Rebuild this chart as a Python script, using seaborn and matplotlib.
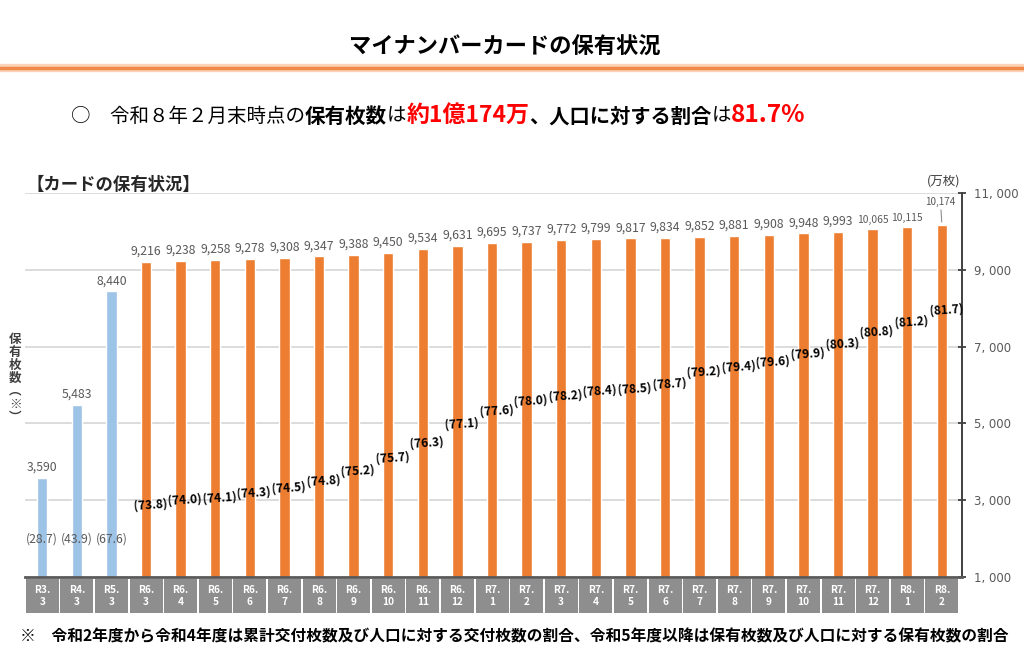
import matplotlib
matplotlib.use("Agg")
import matplotlib.pyplot as plt
import matplotlib.transforms as mtransforms
from matplotlib.patches import Rectangle
from matplotlib.lines import Line2D
import seaborn as sns
import pandas as pd

# ---------------- data ----------------
periods = ["R3.\n3", "R4.\n3", "R5.\n3",
           "R6.\n3", "R6.\n4", "R6.\n5", "R6.\n6", "R6.\n7", "R6.\n8", "R6.\n9",
           "R6.\n10", "R6.\n11", "R6.\n12",
           "R7.\n1", "R7.\n2", "R7.\n3", "R7.\n4", "R7.\n5", "R7.\n6", "R7.\n7",
           "R7.\n8", "R7.\n9", "R7.\n10", "R7.\n11", "R7.\n12",
           "R8.\n1", "R8.\n2"]
counts = [3590, 5483, 8440,
          9216, 9238, 9258, 9278, 9308, 9347, 9388, 9450, 9534, 9631,
          9695, 9737, 9772, 9799, 9817, 9834, 9852, 9881, 9908, 9948, 9993, 10065,
          10115, 10174]
ratios = [28.7, 43.9, 67.6,
          73.8, 74.0, 74.1, 74.3, 74.5, 74.8, 75.2, 75.7, 76.3, 77.1,
          77.6, 78.0, 78.2, 78.4, 78.5, 78.7, 79.2, 79.4, 79.6, 79.9, 80.3, 80.8,
          81.2, 81.7]
kinds = ["交付"] * 3 + ["保有"] * 24
y_ticks = [1000, 3000, 5000, 7000, 9000, 11000]

df = pd.DataFrame({"period": periods, "count": counts, "ratio": ratios, "kind": kinds})

# ---------------- style ----------------
sns.set_theme(style="white")
plt.rcParams["font.family"] = ["Noto Sans CJK JP", "DejaVu Sans"]

BLUE = "#9DC3E6"
ORANGE = "#ED7D31"
GRAY_TXT = "#595959"

fig = plt.figure(figsize=(10.24, 6.66), dpi=100)
ax = fig.add_axes([0.0244, 0.1336, 0.9150, 0.5766])

sns.barplot(data=df, x="period", y="count", hue="kind",
            palette={"交付": BLUE, "保有": ORANGE}, order=periods,
            width=0.3, dodge=False, legend=False, ax=ax, saturation=1)

# invisible secondary scale for the ratio labels
ax2 = ax.twinx()
ax2.set_ylim(70.9, 86.4)
ax2.axis("off")

ax.set_xlim(-0.5, len(periods) - 0.42)
ax.set_ylim(y_ticks[0], y_ticks[-1])
ax.set_xlabel("")
ax.set_ylabel("")

# grid lines
for t in y_ticks[1:]:
    ax.axhline(t, color="#D9D9D9", lw=1.3, zorder=0)

# right axis
ax.yaxis.tick_right()
ax.yaxis.set_label_position("right")
ax.set_yticks(y_ticks)
ax.set_yticklabels([f"{t:,}".replace(",", ", ") for t in y_ticks],
                   color=GRAY_TXT, fontsize=8.5, family=["DejaVu Sans"])
ax.tick_params(axis="y", direction="inout", length=6, width=1.3,
               color="#404040", pad=6, right=True, left=False,
               labelright=True, labelleft=False)
ax.tick_params(axis="x", length=0, labelbottom=False)
for s in ["left", "top"]:
    ax.spines[s].set_visible(False)
ax.spines["right"].set_color("#404040")
ax.spines["right"].set_linewidth(1.4)
ax.spines["bottom"].set_color("#595959")
ax.spines["bottom"].set_linewidth(2)

# value labels
for i, v in enumerate(counts):
    if i == len(counts) - 1:
        ax.annotate(f"{v:,}", xy=(i, v), xytext=(-1, 13), textcoords="offset points",
                    ha="center", va="bottom", fontsize=7.2, color=GRAY_TXT,
                    arrowprops=dict(arrowstyle="-", color="#8C8C8C", lw=0.8,
                                    shrinkA=0, shrinkB=2))
    else:
        ax.annotate(f"{v:,}", xy=(i, v), xytext=(0, 3), textcoords="offset points",
                    ha="center", va="bottom",
                    fontsize=8.8 if v < 10000 else 7.4, color=GRAY_TXT)

# ratio labels
trans = mtransforms.blended_transform_factory(ax.transData, ax.transAxes)
for i, r in enumerate(ratios):
    if kinds[i] == "交付":
        ax.text(i, 0.10, f"({r:.1f})", transform=trans, ha="center", va="center",
                fontsize=8.8, color=GRAY_TXT)
    else:
        ax2.text(i + 0.12, r, f"({r:.1f})", ha="center", va="center",
                 fontsize=8.6, fontweight="bold", color="black", rotation=4)

# category boxes under the axis
for i, p in enumerate(periods):
    ax.add_patch(Rectangle((i - 0.475, -0.094), 0.95, 0.088, transform=trans,
                           facecolor="#8E8E8E", edgecolor="none", clip_on=False))
    ax.text(i, -0.05, p, transform=trans, ha="center", va="center",
            fontsize=7.3, fontweight="bold", color="white", linespacing=1.25)

# ---------------- texts ----------------
fig.text(0.493, 0.929, "マイナンバーカードの保有状況", ha="center", va="center",
         fontsize=16, fontweight="bold", color="black")
fig.add_artist(Line2D([0, 1], [0.898, 0.898], transform=fig.transFigure,
                      color="#FAD3B8", lw=6))
fig.add_artist(Line2D([0, 1], [0.898, 0.898], transform=fig.transFigure,
                      color="#F0894A", lw=2.5))

pieces = [
    ("○　令和８年２月末時点の", "normal", "black", 14),
    ("保有枚数", "bold", "black", 14.8),
    ("は", "normal", "black", 14),
    ("約1億174万", "bold", "#FF0000", 16.5),
    ("、人口に対する割合", "bold", "black", 14.6),
    ("は", "normal", "black", 14),
    ("81.7%", "bold", "#FF0000", 17.5),
]
prev = None
for txt, w, c, fs in pieces:
    if prev is None:
        prev = fig.text(0.069, 0.810, txt, ha="left", va="bottom",
                        fontsize=fs, fontweight=w, color=c)
    else:
        prev = ax.annotate(txt, xy=(1, 0), xycoords=prev, ha="left", va="bottom",
                           fontsize=fs, fontweight=w, color=c)

fig.text(0.026, 0.722, "【カードの保有状況】", ha="left", va="center",
         fontsize=12.5, fontweight="bold", color="#262626")
fig.text(0.938, 0.728, "(万枚)", ha="right", va="center",
         fontsize=9, color="#404040")
fig.text(0.015, 0.432, "保\n有\n枚\n数\n︵\n※\n︶", ha="center", va="center",
         fontsize=9, fontweight="bold", color="#404040", linespacing=1.0)
fig.text(0.020, 0.044,
         "※　令和2年度から令和4年度は累計交付枚数及び人口に対する交付枚数の割合、令和5年度以降は保有枚数及び人口に対する保有枚数の割合",
         ha="left", va="center", fontsize=11.3, fontweight="bold", color="black")

fig.savefig("out.png", dpi=100, facecolor="white")
